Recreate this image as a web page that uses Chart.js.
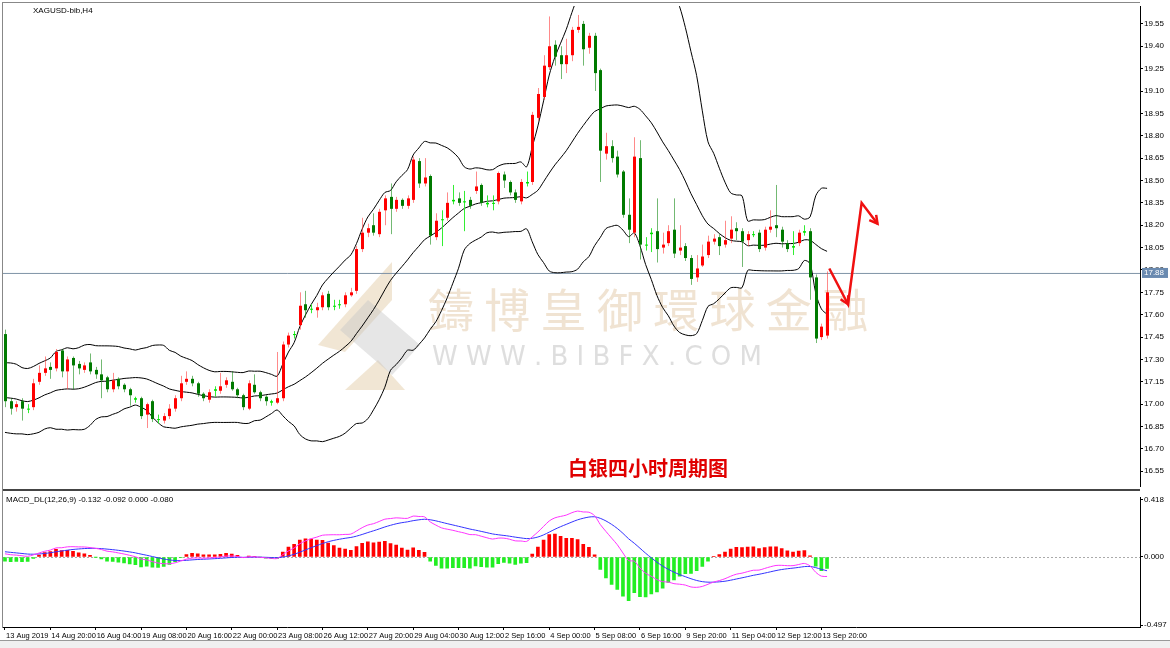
<!DOCTYPE html>
<html>
<head>
<meta charset="utf-8">
<script src="https://cdn.jsdelivr.net/npm/chart.js@4"></script>
<style>
  body { margin:0; width:1170px; height:648px; background:#fff; overflow:hidden; position:relative; font-family:"DejaVu Sans", sans-serif; }
  #top { position:absolute; left:0; top:0; width:1170px; height:492px; }
  #bot { position:absolute; left:0; top:492px; width:1170px; height:156px; }
  .frame { position:absolute; left:2px; top:2px; width:1138px; height:0; border-top:1px solid #888; }
  .sep { position:absolute; left:3px; top:489px; width:1137px; height:2px; background:#444; }
  .leftb { position:absolute; left:2px; top:2px; width:1px; height:626px; background:#888; }
  .tabs { position:absolute; left:0; top:640px; width:1170px; height:8px; border-top:1px solid #999; background:#f0f0f0; }
  .tag { position:absolute; font-size:8px; font-family:"Liberation Sans", sans-serif; color:#000; }
</style>
</head>
<body>
<div id="top"><canvas id="priceChart"></canvas></div>
<div id="bot"><canvas id="macdChart"></canvas></div>
<div class="frame"></div>
<div class="leftb"></div>
<div class="sep"></div>
<div class="tabs"></div>
<div class="tag" style="left:33px;top:6px;">XAGUSD-bib,H4</div>
<div class="tag" style="left:6px;top:495px;">MACD_DL(12,26,9) -0.132 -0.092 0.000 -0.080</div>
<script>
// price data (4H candles, 13 Aug 2019 - 13 Sep 2019)
const opens = [17.47,17.02,16.98,17.02,16.97,16.98,17.15,17.21,17.25,17.24,17.36,17.22,17.31,17.27,17.23,17.28,17.23,17.20,17.18,17.10,
  17.17,17.13,17.10,17.04,17.04,16.93,17.02,16.90,16.89,16.92,16.97,17.04,17.15,17.17,17.14,17.07,17.03,17.10,17.09,17.13,
  17.15,17.10,17.06,16.97,17.13,17.08,17.05,17.02,17.01,17.04,17.40,17.47,17.53,17.67,17.64,17.63,17.65,17.74,17.66,17.67,
  17.67,17.73,17.76,18.04,18.15,18.20,18.14,18.30,18.39,18.31,18.37,18.33,18.37,18.63,18.48,18.53,18.12,18.24,18.25,18.36,
  18.38,18.36,18.37,18.43,18.47,18.35,18.35,18.36,18.54,18.49,18.42,18.36,18.49,18.49,18.92,19.06,19.26,19.41,19.34,19.28,
  19.34,19.51,19.55,19.39,19.47,19.24,18.68,18.73,18.66,18.56,18.27,18.15,18.65,18.07,18.14,18.16,18.05,18.08,18.17,18.03,
  18.06,17.98,17.85,17.93,18.00,18.09,18.12,18.07,18.11,18.18,18.16,18.10,18.14,18.15,18.05,18.17,18.20,18.17,18.08,18.05,
  18.08,18.15,18.16,17.85,17.45,17.46];
const closes = [17.02,16.97,17.00,16.97,16.97,17.14,17.21,17.24,17.23,17.35,17.22,17.30,17.26,17.24,17.26,17.22,17.20,17.16,17.10,17.16,
  17.12,17.10,17.06,17.03,16.92,17.00,16.90,16.90,16.92,16.97,17.04,17.14,17.17,17.14,17.07,17.04,17.08,17.09,17.12,17.16,
  17.10,17.06,16.98,17.14,17.08,17.04,17.02,17.01,17.04,17.40,17.46,17.47,17.66,17.63,17.64,17.65,17.73,17.65,17.66,17.67,
  17.73,17.75,18.04,18.15,18.18,18.15,18.29,18.38,18.31,18.37,18.33,18.38,18.64,18.48,18.52,18.13,18.23,18.24,18.35,18.37,
  18.35,18.36,18.33,18.46,18.35,18.34,18.35,18.55,18.50,18.42,18.37,18.49,18.48,18.94,19.08,19.27,19.40,19.33,19.28,19.34,
  19.51,19.53,19.38,19.47,19.22,18.70,18.73,18.65,18.54,18.27,18.17,18.66,18.07,18.07,18.15,18.04,18.07,18.16,18.01,18.05,
  17.98,17.84,17.91,17.99,18.09,18.11,18.06,18.10,18.17,18.16,18.09,18.14,18.14,18.04,18.17,18.19,18.18,18.09,18.04,18.06,
  18.15,18.16,17.85,17.44,17.52,17.75];
const highs = [17.50,17.04,17.02,17.04,17.00,17.17,17.26,17.32,17.28,17.37,17.37,17.32,17.32,17.29,17.28,17.34,17.25,17.30,17.19,17.21,
  17.18,17.14,17.11,17.05,17.05,17.01,17.03,16.93,16.94,17.00,17.06,17.19,17.22,17.19,17.15,17.08,17.10,17.12,17.21,17.18,
  17.22,17.11,17.07,17.16,17.20,17.09,17.06,17.03,17.35,17.42,17.48,17.49,17.75,17.76,17.67,17.68,17.75,17.76,17.70,17.70,
  17.75,17.78,18.06,18.25,18.21,18.28,18.31,18.40,18.48,18.39,18.38,18.40,18.66,18.65,18.65,18.54,18.28,18.30,18.42,18.47,
  18.42,18.43,18.39,18.56,18.48,18.40,18.40,18.56,18.56,18.50,18.44,18.51,18.56,18.96,19.12,19.34,19.60,19.44,19.40,19.45,
  19.53,19.61,19.57,19.49,19.49,19.25,18.82,18.77,18.70,18.57,18.38,18.79,18.77,18.12,18.18,18.38,18.15,18.20,18.38,18.20,
  18.08,18.00,18.00,18.07,18.13,18.14,18.14,18.23,18.26,18.22,18.18,18.16,18.16,18.17,18.19,18.30,18.47,18.19,18.10,18.16,
  18.17,18.20,18.18,17.87,17.54,17.89];
const lows = [16.98,16.93,16.95,16.89,16.94,16.96,17.13,17.19,17.17,17.22,17.18,17.10,17.10,17.20,17.21,17.20,17.17,17.04,17.08,17.08,
  17.10,17.08,16.99,17.01,16.90,16.84,16.88,16.87,16.87,16.90,16.95,17.02,17.13,17.12,17.05,17.02,17.01,17.05,17.07,17.11,
  17.09,17.04,16.96,16.96,17.07,17.02,16.99,16.99,17.00,17.02,17.38,17.44,17.50,17.58,17.61,17.58,17.63,17.63,17.63,17.64,
  17.65,17.72,17.74,18.02,18.12,18.13,18.12,18.20,18.14,18.29,18.31,18.31,18.35,18.45,18.46,18.07,18.10,18.06,18.23,18.34,
  18.33,18.16,18.31,18.41,18.33,18.32,18.30,18.34,18.45,18.40,18.35,18.34,18.46,18.47,18.90,19.04,19.24,19.27,19.18,19.22,
  19.30,19.49,19.27,19.35,19.10,18.49,18.64,18.62,18.52,18.25,18.08,18.12,17.97,18.03,18.02,17.95,18.01,18.06,17.98,18.00,
  17.96,17.80,17.82,17.92,17.98,18.07,18.00,18.05,18.08,18.10,17.92,18.06,18.12,18.02,18.03,18.15,18.12,18.05,18.02,18.00,
  18.06,18.13,17.70,17.41,17.43,17.44];
// closes before 13 Aug, used only to warm up the indicators
const priorCloses = [16.62,16.70,16.78,16.74,16.85,16.90,16.82,16.95,17.02,16.98,17.10,17.05,16.96,17.08,17.15,17.02,16.94,17.00,16.88,16.92,
  16.98,17.05,17.12,17.20,17.08,16.95,16.90,16.85,16.95,17.02,17.10,17.22,17.30,17.18,17.05,16.92,16.88,17.00,17.08,17.02];
const timeLabels = ['13 Aug 2019','14 Aug 20:00','16 Aug 04:00','19 Aug 08:00','20 Aug 16:00','22 Aug 00:00','23 Aug 08:00',
  '26 Aug 12:00','27 Aug 20:00','29 Aug 04:00','30 Aug 12:00','2 Sep 16:00','4 Sep 00:00','5 Sep 08:00','6 Sep 16:00',
  '9 Sep 20:00','11 Sep 04:00','12 Sep 12:00','13 Sep 20:00'];
const priceTicks = [16.55,16.70,16.85,17.00,17.15,17.30,17.45,17.60,17.75,17.90,18.05,18.20,18.35,18.50,18.65,18.80,18.95,19.10,19.25,19.40,19.55];
const macdTicks = [-0.497, 0, 0.418];
const bidPrice = 17.88;
// hand drawn forecast arrow (bar index, price)
const arrowPath = [[145.4,17.91],[148.7,17.67],[151.1,18.35],[153.9,18.21]];

const labelStep = 8;
const xMin = -0.35, xMax = 200.2;

/* indicators */
const all = priorCloses.concat(closes);
const skip = priorCloses.length;
function ema(arr, n) {
  const k = 2 / (n + 1); const out = [arr[0]];
  for (let i = 1; i < arr.length; i++) out.push(arr[i] * k + out[i - 1] * (1 - k));
  return out;
}
const bbUp = [], bbMid = [], bbLow = [];
for (let i = skip; i < all.length; i++) {
  const w = all.slice(i - 19, i + 1);
  const m = w.reduce((a, b) => a + b, 0) / 20;
  const sd = Math.sqrt(w.reduce((a, b) => a + (b - m) * (b - m), 0) / 20);
  const j = i - skip;
  bbMid.push({x: j, y: m}); bbUp.push({x: j, y: m + 2 * sd}); bbLow.push({x: j, y: m - 2 * sd});
}
const e12 = ema(all, 12), e26 = ema(all, 26);
const macdAll = e12.map((v, i) => v - e26[i]);
const sigAll = ema(macdAll, 9);
const macdLine = [], sigLine = [], hist = [];
for (let i = skip; i < all.length; i++) {
  const j = i - skip;
  macdLine.push({x: j, y: macdAll[i]});
  sigLine.push({x: j, y: sigAll[i]});
  hist.push({x: j, y: 2 * (macdAll[i] - sigAll[i])});
}

const tickFont = {family: 'Liberation Sans', size: 8};

/* candles + overlay */
const candlePlugin = {
  id: 'candles',
  beforeDatasetsDraw(chart) {
    const c = chart.ctx, a = chart.chartArea;
    c.save();
    // watermark logo
    c.fillStyle = 'rgba(225,200,160,0.45)';
    c.beginPath(); c.moveTo(318,345); c.lineTo(392,262); c.lineTo(392,300); c.lineTo(345,352); c.closePath(); c.fill();
    c.beginPath(); c.moveTo(345,390); c.lineTo(405,390); c.lineTo(378,360); c.closePath(); c.fill();
    c.fillStyle = 'rgba(200,200,200,0.45)';
    c.beginPath(); c.moveTo(340,330); c.lineTo(368,300); c.lineTo(420,345); c.lineTo(392,375); c.closePath(); c.fill();
    c.font = '46px "Noto Sans CJK TC"';
    c.fillStyle = 'rgba(225,200,165,0.5)';
    c.textBaseline = 'middle';
    c.fillText('鑄 博 皇 御 環 球 金 融', 428, 310);
    c.font = '26px "DejaVu Sans"';
    c.fillStyle = 'rgba(200,200,200,0.6)';
    c.fillText('W W W . B I B F X . C O M', 432, 358);
    // bid line
    const y = chart.scales.y.getPixelForValue(bidPrice);
    c.strokeStyle = '#7f93a6'; c.lineWidth = 1;
    c.beginPath(); c.moveTo(a.left, y + 0.5); c.lineTo(a.right, y + 0.5); c.stroke();
    c.restore();
  },
  afterDatasetsDraw(chart) {
    const c = chart.ctx, xs = chart.scales.x, ys = chart.scales.y, a = chart.chartArea;
    c.save();
    c.beginPath(); c.rect(a.left, a.top, a.right - a.left, a.bottom - a.top); c.clip();
    for (let i = 0; i < closes.length; i++) {
      const x = Math.round(xs.getPixelForValue(i));
      const o = opens[i], cl = closes[i];
      const doji = Math.abs(o - cl) < 0.015;
      const col = doji ? '#00e000' : (cl > o ? '#ff0000' : '#007a00');
      c.strokeStyle = doji ? '#33ee33' : (cl > o ? 'rgba(255,60,60,0.6)' : 'rgba(0,128,0,0.55)');
      c.lineWidth = 1;
      c.beginPath(); c.moveTo(x + 0.5, ys.getPixelForValue(highs[i])); c.lineTo(x + 0.5, ys.getPixelForValue(lows[i])); c.stroke();
      const y1 = ys.getPixelForValue(Math.max(o, cl)), y2 = ys.getPixelForValue(Math.min(o, cl));
      c.fillStyle = col;
      c.fillRect(x - 1, y1, 3, Math.max(1, y2 - y1));
    }
    c.restore();
    // arrow
    c.save();
    c.strokeStyle = '#f01010'; c.lineWidth = 2.5; c.lineJoin = 'miter';
    const pts = arrowPath.map(p => [xs.getPixelForValue(p[0]), ys.getPixelForValue(p[1])]);
    c.beginPath(); pts.forEach((p, k) => k ? c.lineTo(p[0], p[1]) : c.moveTo(p[0], p[1])); c.stroke();
    [[pts[0], pts[1]], [pts[2], pts[3]]].forEach(([p, q]) => {
      const ang = Math.atan2(q[1] - p[1], q[0] - p[0]);
      c.beginPath();
      c.moveTo(q[0] - 9 * Math.cos(ang - 0.5), q[1] - 9 * Math.sin(ang - 0.5));
      c.lineTo(q[0], q[1]);
      c.lineTo(q[0] - 9 * Math.cos(ang + 0.5), q[1] - 9 * Math.sin(ang + 0.5));
      c.stroke();
    });
    // title
    c.fillStyle = '#e00000';
    c.font = 'bold 20px "Noto Sans CJK SC"';
    c.textBaseline = 'middle';
    c.fillText('白银四小时周期图', 568, 468);
    // bid tag
    const y = ys.getPixelForValue(bidPrice);
    c.fillStyle = '#6a8ab0';
    c.fillRect(a.right + 2, y - 5, 26, 10);
    c.fillStyle = '#fff'; c.font = '8px "Liberation Sans"';
    c.fillText(bidPrice.toFixed(2), a.right + 4, y);
    c.restore();
  }
};

new Chart(document.getElementById('priceChart'), {
  type: 'line',
  data: {
    datasets: [
      {data: bbUp, borderColor: '#000', borderWidth: 1, pointRadius: 0, tension: 0.3},
      {data: bbMid, borderColor: '#000', borderWidth: 1, pointRadius: 0, tension: 0.3},
      {data: bbLow, borderColor: '#000', borderWidth: 1, pointRadius: 0, tension: 0.3}
    ]
  },
  options: {
    responsive: true, maintainAspectRatio: false, animation: false,
    layout: {padding: {left: 3, top: 6, bottom: 2}},
    plugins: {legend: {display: false}, tooltip: {enabled: false}},
    scales: {
      x: {type: 'linear', min: xMin, max: xMax, display: false},
      y: {
        position: 'right', min: 16.45, max: 19.67,
        afterBuildTicks: s => { s.ticks = priceTicks.map(v => ({value: v})); },
        afterFit: s => { s.width = 30; },
        grid: {drawOnChartArea: false, color: '#000', tickLength: 3},
        border: {color: '#000'},
        ticks: {font: tickFont, color: '#000', padding: 1, callback: v => v.toFixed(2)}
      }
    }
  },
  plugins: [candlePlugin]
});

const macdPlugin = {
  id: 'macdExtras',
  beforeDatasetsDraw(chart) {
    const c = chart.ctx, a = chart.chartArea, y = Math.round(chart.scales.y.getPixelForValue(0)) + 0.5;
    c.save(); c.strokeStyle = '#aaa'; c.setLineDash([2, 2]);
    c.beginPath(); c.moveTo(a.left, y); c.lineTo(a.right, y); c.stroke(); c.restore();
  },
  afterDraw(chart) {
    const c = chart.ctx, a = chart.chartArea, xs = chart.scales.x;
    c.save();
    c.fillStyle = '#000'; c.font = '7.5px "Liberation Sans"'; c.textBaseline = 'top'; c.textAlign = 'left';
    timeLabels.forEach((t, k) => c.fillText(t, xs.getPixelForValue(k * labelStep) + 1, a.bottom + 5));
    c.restore();
  }
};

new Chart(document.getElementById('macdChart'), {
  type: 'bar',
  data: {
    datasets: [
      {type: 'line', data: macdLine, borderColor: '#ff33ff', borderWidth: 1, pointRadius: 0, tension: 0.3},
      {type: 'line', data: sigLine, borderColor: '#3333ff', borderWidth: 1, pointRadius: 0, tension: 0.3},
      {data: hist, barThickness: 3, backgroundColor: hist.map(h => h.y >= 0 ? '#ff0000' : '#22ee22')}
    ]
  },
  options: {
    responsive: true, maintainAspectRatio: false, animation: false,
    layout: {padding: {left: 3, top: 1, bottom: 0}},
    plugins: {legend: {display: false}, tooltip: {enabled: false}},
    scales: {
      x: {
        type: 'linear', min: xMin, max: xMax, offset: false,
        afterBuildTicks: s => { s.ticks = timeLabels.map((t, k) => ({value: k * labelStep})); },
        afterFit: s => { s.height = 21; },
        grid: {drawOnChartArea: false, color: '#000', tickLength: 3, offset: false},
        border: {color: '#000'},
        ticks: {display: false}
      },
      y: {
        position: 'right', min: -0.511, max: 0.432,
        afterBuildTicks: s => { s.ticks = macdTicks.map(v => ({value: v})); },
        afterFit: s => { s.width = 30; },
        grid: {drawOnChartArea: false, color: '#000', tickLength: 3},
        border: {color: '#000'},
        ticks: {font: tickFont, color: '#000', padding: 1, callback: v => v.toFixed(3)}
      }
    }
  },
  plugins: [macdPlugin]
});
</script>
</body>
</html>
